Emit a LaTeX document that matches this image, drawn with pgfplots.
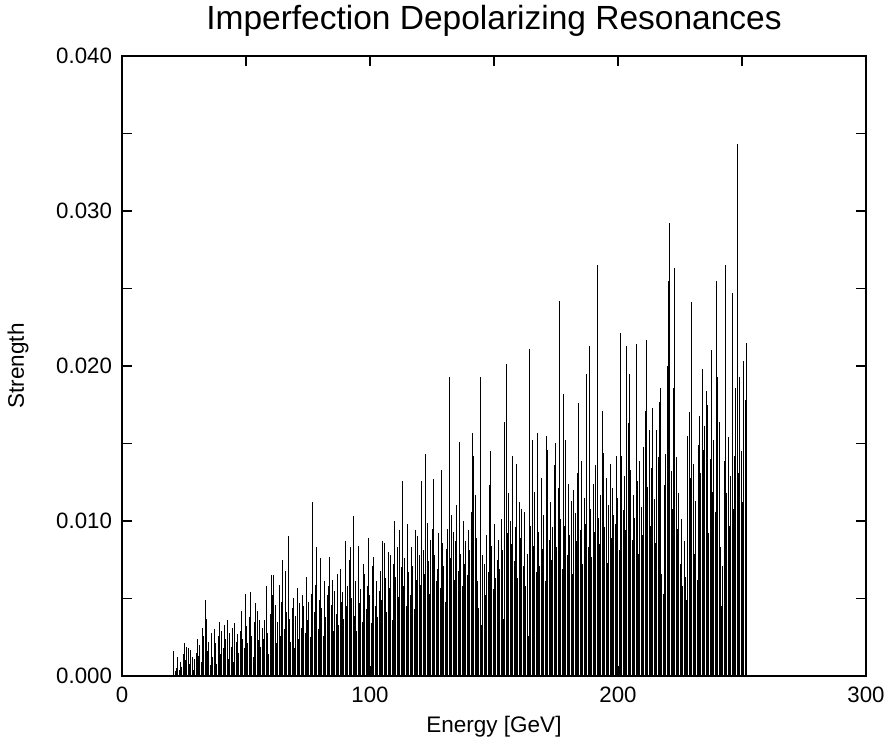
\documentclass[border=0pt]{standalone}
\usepackage{pgfplots}
\usepackage{pgfplotstable}
\pgfplotsset{compat=1.18}
\usepackage{fontspec}
\setmainfont{Liberation Sans}
% imperfection resonance strengths, one per integer G*gamma (spacing 0.52338 GeV), starting at 20.94 GeV
\pgfplotstableread[row sep=\\]{
s\\
0.0016\\0.0003\\0.0005\\0.0012\\0.0004\\0.0009\\0.0006\\0.0014\\0.0021\\0.0010\\
0.0019\\0.0018\\0.0008\\0.0017\\0.0012\\0.0004\\0.0011\\0.0015\\0.0024\\0.0013\\
0.0020\\0.0009\\0.0031\\0.0026\\0.0049\\0.0037\\0.0016\\0.0022\\0.0007\\0.0028\\
0.0012\\0.0030\\0.0021\\0.0008\\0.0026\\0.0035\\0.0014\\0.0029\\0.0018\\0.0033\\
0.0024\\0.0036\\0.0011\\0.0028\\0.0019\\0.0031\\0.0009\\0.0034\\0.0022\\0.0027\\
0.0015\\0.0029\\0.0042\\0.0024\\0.0018\\0.0053\\0.0032\\0.0021\\0.0038\\0.0054\\
0.0026\\0.0012\\0.0035\\0.0047\\0.0042\\0.0023\\0.0036\\0.0019\\0.0031\\0.0024\\
0.0036\\0.0058\\0.0028\\0.0014\\0.0040\\0.0065\\0.0052\\0.0065\\0.0046\\0.0021\\
0.0035\\0.0059\\0.0026\\0.0048\\0.0075\\0.0030\\0.0068\\0.0041\\0.0090\\0.0037\\
0.0022\\0.0044\\0.0050\\0.0018\\0.0039\\0.0057\\0.0024\\0.0047\\0.0031\\0.0052\\
0.0045\\0.0028\\0.0064\\0.0036\\0.0048\\0.0025\\0.0053\\0.0112\\0.0041\\0.0059\\
0.0083\\0.0030\\0.0049\\0.0076\\0.0044\\0.0026\\0.0061\\0.0038\\0.0052\\0.0058\\
0.0077\\0.0046\\0.0062\\0.0029\\0.0055\\0.0040\\0.0066\\0.0033\\0.0069\\0.0048\\
0.0054\\0.0037\\0.0087\\0.0045\\0.0058\\0.0075\\0.0083\\0.0050\\0.0103\\0.0039\\
0.0061\\0.0029\\0.0084\\0.0047\\0.0056\\0.0035\\0.0072\\0.0066\\0.0043\\0.0058\\
0.0089\\0.0052\\0.0034\\0.0071\\0.0077\\0.0045\\0.0061\\0.0038\\0.0055\\0.0068\\
0.0049\\0.0087\\0.0086\\0.0063\\0.0041\\0.0080\\0.0057\\0.0078\\0.0036\\0.0072\\
0.0100\\0.0064\\0.0083\\0.0051\\0.0094\\0.0070\\0.0126\\0.0058\\0.0076\\0.0045\\
0.0098\\0.0067\\0.0052\\0.0083\\0.0071\\0.0043\\0.0094\\0.0062\\0.0090\\0.0078\\
0.0059\\0.0126\\0.0081\\0.0066\\0.0143\\0.0099\\0.0074\\0.0053\\0.0088\\0.0095\\
0.0127\\0.0078\\0.0061\\0.0069\\0.0092\\0.0057\\0.0133\\0.0086\\0.0071\\0.0048\\
0.0082\\0.0095\\0.0193\\0.0076\\0.0104\\0.0093\\0.0062\\0.0087\\0.0110\\0.0068\\
0.0151\\0.0079\\0.0058\\0.0100\\0.0072\\0.0087\\0.0065\\0.0094\\0.0081\\0.0106\\
0.0157\\0.0142\\0.0117\\0.0089\\0.0061\\0.0044\\0.0193\\0.0033\\0.0078\\0.0072\\
0.0052\\0.0091\\0.0067\\0.0123\\0.0145\\0.0084\\0.0056\\0.0098\\0.0063\\0.0075\\
0.0088\\0.0069\\0.0101\\0.0081\\0.0037\\0.0164\\0.0201\\0.0092\\0.0118\\0.0100\\
0.0085\\0.0142\\0.0074\\0.0096\\0.0137\\0.0063\\0.0112\\0.0089\\0.0108\\0.0071\\
0.0106\\0.0058\\0.0079\\0.0026\\0.0211\\0.0097\\0.0152\\0.0084\\0.0119\\0.0067\\
0.0157\\0.0093\\0.0071\\0.0128\\0.0082\\0.0104\\0.0061\\0.0155\\0.0146\\0.0088\\
0.0112\\0.0075\\0.0096\\0.0136\\0.0150\\0.0083\\0.0121\\0.0242\\0.0101\\0.0069\\
0.0182\\0.0097\\0.0152\\0.0078\\0.0124\\0.0091\\0.0113\\0.0066\\0.0120\\0.0105\\
0.0087\\0.0131\\0.0176\\0.0094\\0.0139\\0.0072\\0.0115\\0.0098\\0.0195\\0.0083\\
0.0213\\0.0108\\0.0077\\0.0124\\0.0093\\0.0136\\0.0265\\0.0102\\0.0085\\0.0117\\
0.0171\\0.0144\\0.0096\\0.0128\\0.0073\\0.0110\\0.0137\\0.0089\\0.0121\\0.0104\\
0.0098\\0.0142\\0.0115\\0.0081\\0.0221\\0.0142\\0.0107\\0.0129\\0.0094\\0.0213\\
0.0163\\0.0195\\0.0133\\0.0088\\0.0117\\0.0102\\0.0214\\0.0126\\0.0079\\0.0139\\
0.0109\\0.0091\\0.0148\\0.0171\\0.0217\\0.0122\\0.0159\\0.0097\\0.0134\\0.0173\\
0.0114\\0.0086\\0.0159\\0.0141\\0.0177\\0.0186\\0.0066\\0.0053\\0.0123\\0.0143\\
0.0200\\0.0255\\0.0292\\0.0132\\0.0108\\0.0186\\0.0263\\0.0141\\0.0095\\0.0118\\
0.0072\\0.0101\\0.0058\\0.0087\\0.0064\\0.0049\\0.0155\\0.0170\\0.0128\\0.0241\\
0.0137\\0.0079\\0.0113\\0.0062\\0.0149\\0.0168\\0.0131\\0.0198\\0.0146\\0.0161\\
0.0184\\0.0175\\0.0092\\0.0140\\0.0210\\0.0119\\0.0152\\0.0106\\0.0255\\0.0193\\
0.0164\\0.0083\\0.0045\\0.0071\\0.0139\\0.0265\\0.0118\\0.0154\\0.0097\\0.0129\\
0.0247\\0.0108\\0.0142\\0.0186\\0.0343\\0.0131\\0.0193\\0.0145\\0.0112\\0.0203\\
0.0178\\0.0215\\
}\resdata
\pgfplotsset{every axis title/.style={at={(0.5,1)}, anchor=base, yshift=10.6pt}}
\begin{document}
\begin{tikzpicture}
\begin{axis}[
  scale only axis,
  width=297.6pt, height=248pt,
  xmin=0, xmax=300, ymin=0, ymax=0.04,
  xtick={0,50,100,150,200,250,300},
  xticklabels={0,,100,,200,,300},
  ytick={0,0.005,0.01,0.015,0.02,0.025,0.03,0.035,0.04},
  yticklabels={0.000,,0.010,,0.020,,0.030,,0.040},
  scaled y ticks=false,
  tick align=inside,
  major tick length=4pt,
  tick style={black, line width=0.5pt},
  axis line style={black, line width=0.6pt},
  ticklabel style={font=\fontsize{8.9}{10}\selectfont},
  xticklabel style={yshift=-1pt},
  yticklabel style={xshift=-0.5pt},
  title={Imperfection Depolarizing Resonances},
  title style={font=\fontsize{13.4}{16}\selectfont},
  xlabel={Energy [GeV]},
  xlabel style={font=\fontsize{9}{10}\selectfont, at={(axis description cs:0.5,0)}, anchor=base, yshift=-22.7pt},
  ylabel={Strength},
  ylabel style={font=\fontsize{9}{10}\selectfont, at={(axis description cs:-0.1398,0.5)}, anchor=center},
  clip=true,
]
\addplot[ycomb, black, line width=0.38pt, no markers]
  table[x expr={20.94+0.52338*\coordindex}, y=s] {\resdata};
\end{axis}
\pgfresetboundingbox
\path ([xshift=-48.8pt,yshift=-25.6pt]current axis.south west) rectangle ([xshift=10pt,yshift=22.4pt]current axis.north east);
\end{tikzpicture}
\end{document}
